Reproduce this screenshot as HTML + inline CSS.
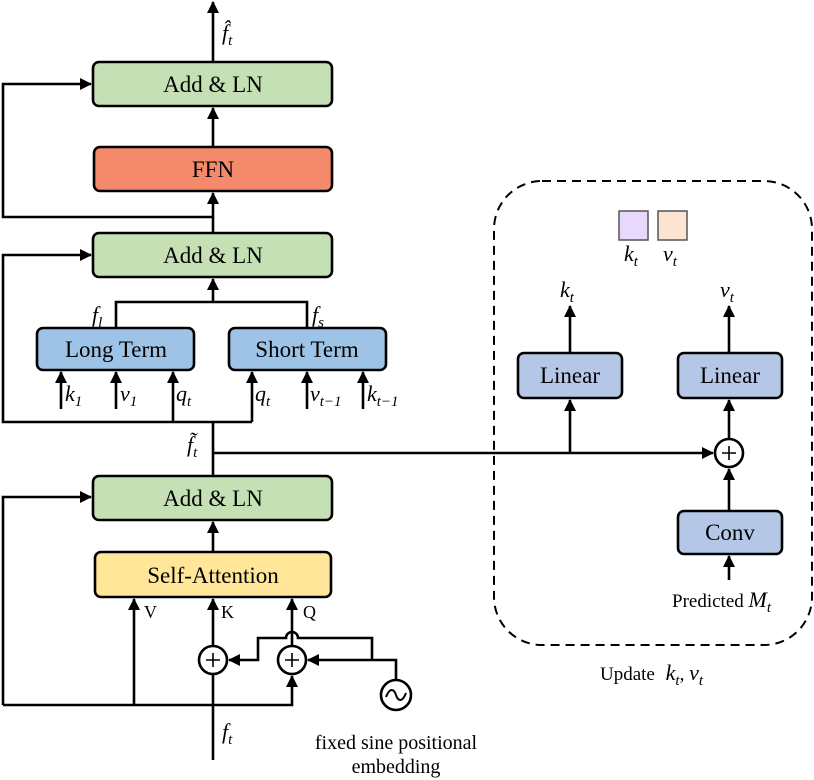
<!DOCTYPE html>
<html><head><meta charset="utf-8"><style>
body{margin:0;background:#fff}
svg{display:block}
text{font-family:"Liberation Serif",serif;fill:#000}
.b{font-size:23px;text-anchor:middle}
.m{font-size:22px;font-style:italic}
.s{font-size:15px;font-style:italic}
</style></head><body>
<svg width="814" height="780" viewBox="0 0 814 780" xmlns="http://www.w3.org/2000/svg">
<defs><marker id="a" markerWidth="12" markerHeight="12" refX="11" refY="6" orient="auto" markerUnits="userSpaceOnUse"><path d="M0,0 L12,6 L0,12z" fill="#000"/></marker></defs>
<g stroke="#000" stroke-width="2.6" fill="none">
<rect x="93" y="62" width="239" height="44" rx="6" fill="#c5e0b4"/>
<rect x="94" y="147" width="238" height="44" rx="6" fill="#f4896b"/>
<rect x="93" y="233" width="239" height="44" rx="6" fill="#c5e0b4"/>
<rect x="37" y="328" width="157" height="42" rx="6" fill="#9dc3e6"/>
<rect x="229" y="328" width="157" height="42" rx="6" fill="#9dc3e6"/>
<rect x="93" y="476" width="239" height="44" rx="6" fill="#c5e0b4"/>
<rect x="95" y="552" width="236" height="45" rx="6" fill="#ffe699"/>
<rect x="518" y="353" width="104" height="45" rx="6" fill="#b4c7e7"/>
<rect x="678" y="353" width="104" height="45" rx="6" fill="#b4c7e7"/>
<rect x="678" y="511" width="104" height="43" rx="6" fill="#b4c7e7"/>
<rect x="494" y="181" width="318" height="464" rx="48" stroke-dasharray="9,6" stroke-width="2"/>
<rect x="619" y="211" width="29" height="29" fill="#e6d9fb" stroke-width="1.5" stroke="#555"/>
<rect x="658" y="211" width="29" height="29" fill="#fde4d2" stroke-width="1.5" stroke="#555"/>
<path d="M213 62 V2" marker-end="url(#a)"/>
<path d="M213 147 V108" marker-end="url(#a)"/>
<path d="M213 233 V193" marker-end="url(#a)"/>
<path d="M213 217 H3 V84 H91" marker-end="url(#a)"/>
<path d="M213 302 V279" marker-end="url(#a)"/>
<path d="M116 328 V302 H307 V328"/>
<path d="M252 422 H3 V255 H91" marker-end="url(#a)"/>
<path d="M61 409 V372" marker-end="url(#a)"/>
<path d="M116 409 V372" marker-end="url(#a)"/>
<path d="M173 422 V372" marker-end="url(#a)"/>
<path d="M252 422 V372" marker-end="url(#a)"/>
<path d="M307 409 V372" marker-end="url(#a)"/>
<path d="M363 409 V372" marker-end="url(#a)"/>
<path d="M213 422 V476"/>
<path d="M213 453 H713" marker-end="url(#a)"/>
<path d="M570 453 V400" marker-end="url(#a)"/>
<path d="M570 353 V306" marker-end="url(#a)"/>
<path d="M729 439 V400" marker-end="url(#a)"/>
<path d="M729 353 V306" marker-end="url(#a)"/>
<path d="M729 511 V469" marker-end="url(#a)"/>
<path d="M729 580 V556" marker-end="url(#a)"/>
<circle cx="729" cy="453" r="14" fill="#fff"/>
<path d="M722 453 H736 M729 446 V460" stroke-width="1.6"/>
<path d="M213 552 V522" marker-end="url(#a)"/>
<path d="M3 705 V497 H91" marker-end="url(#a)"/>
<path d="M3 705 H292 V676" marker-end="url(#a)"/>
<path d="M134 705 V599" marker-end="url(#a)"/>
<path d="M213 760 V646"/>
<path d="M213 646 V599" marker-end="url(#a)"/>
<path d="M292 646 V599" marker-end="url(#a)"/>
<circle cx="213" cy="660" r="14" fill="#fff"/>
<path d="M206 660 H220 M213 653 V667" stroke-width="1.6"/>
<circle cx="292" cy="660" r="14" fill="#fff"/>
<path d="M285 660 H299 M292 653 V667" stroke-width="1.6"/>
<path d="M372 660 V638 H298 A6 6 0 0 0 286 638 H258 V660 H229" marker-end="url(#a)"/>
<path d="M396 680 V660 H308" marker-end="url(#a)"/>
<circle cx="396" cy="695" r="15" fill="#fff"/>
<path d="M386 697 C390 687 394 689 396 695 C398 701 402 703 406 693" stroke-width="2"/>
</g>
<text class="b" x="213" y="92">Add &amp; LN</text>
<text class="b" x="213" y="177">FFN</text>
<text class="b" x="213" y="263">Add &amp; LN</text>
<text class="b" x="116" y="357">Long Term</text>
<text class="b" x="307" y="357">Short Term</text>
<text class="b" x="213" y="506">Add &amp; LN</text>
<text class="b" x="213" y="583">Self-Attention</text>
<text class="b" x="570" y="383">Linear</text>
<text class="b" x="730" y="383">Linear</text>
<text class="b" x="730" y="540">Conv</text>
<text class="m" x="222" y="40">f̂<tspan class="s" dy="5">t</tspan></text>
<text class="m" x="92" y="322">f<tspan class="s" dy="5">l</tspan></text>
<text class="m" x="312" y="322">f<tspan class="s" dy="5">s</tspan></text>
<text class="m" x="65" y="401">k<tspan class="s" dy="5">1</tspan></text>
<text class="m" x="120" y="401">v<tspan class="s" dy="5">1</tspan></text>
<text class="m" x="176" y="401">q<tspan class="s" dy="5">t</tspan></text>
<text class="m" x="255" y="401">q<tspan class="s" dy="5">t</tspan></text>
<text class="m" x="310" y="401">v<tspan class="s" dy="5">t−1</tspan></text>
<text class="m" x="367" y="401">k<tspan class="s" dy="5">t−1</tspan></text>
<text class="m" x="187" y="452">f̃<tspan class="s" dy="5">t</tspan></text>
<text x="144" y="618" style="font-size:18px">V</text>
<text x="221" y="618" style="font-size:18px">K</text>
<text x="303" y="618" style="font-size:18px">Q</text>
<text class="m" x="222" y="739">f<tspan class="s" dy="5">t</tspan></text>
<text x="396" y="749" style="font-size:20px;text-anchor:middle">fixed sine positional</text>
<text x="396" y="773" style="font-size:20px;text-anchor:middle">embedding</text>
<text class="m" x="624" y="261">k<tspan class="s" dy="5">t</tspan></text>
<text class="m" x="663" y="261">v<tspan class="s" dy="5">t</tspan></text>
<text class="m" x="560" y="297">k<tspan class="s" dy="5">t</tspan></text>
<text class="m" x="720" y="297">v<tspan class="s" dy="5">t</tspan></text>
<text x="672" y="607" style="font-size:19px">Predicted <tspan font-style="italic" font-size="22">M</tspan><tspan class="s" dy="5">t</tspan></text>
<text x="600" y="680" style="font-size:19px">Update <tspan font-style="italic" font-size="22" dx="6">k</tspan><tspan class="s" dy="5">t</tspan><tspan dy="-5">, </tspan><tspan font-style="italic" font-size="22">v</tspan><tspan class="s" dy="5">t</tspan></text>
</svg>
</body></html>
